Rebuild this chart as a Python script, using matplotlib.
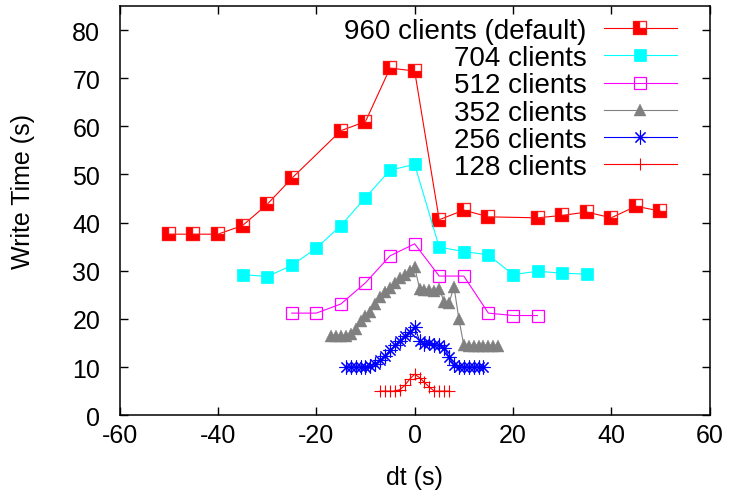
import matplotlib
matplotlib.use("Agg")
import matplotlib.pyplot as plt
from matplotlib.path import Path

plt.rcParams['font.family'] = ['Liberation Sans', 'DejaVu Sans']
plt.rcParams['axes.unicode_minus'] = False

# --- data ---
dt_960 = [-50, -45, -40, -35, -30, -25, -15, -10, -5, 0, 5, 10, 15, 25, 30, 35, 40, 45, 50]
wt_960 = [37.6, 37.6, 37.6, 39.4, 43.8, 49.2, 59.1, 61.0, 72.1, 71.5,
          40.6, 42.6, 41.2, 41.0, 41.5, 42.2, 41.0, 43.4, 42.4]

dt_704 = [-35, -30, -25, -20, -15, -10, -5, 0, 5, 10, 15, 20, 25, 30, 35]
wt_704 = [29.2, 28.8, 31.1, 34.7, 39.4, 45.2, 50.9, 52.1, 34.9, 34.0, 33.3, 29.2, 29.9, 29.5, 29.3]

dt_512 = [-25, -20, -15, -10, -5, 0, 5, 10, 15, 20, 25]
wt_512 = [21.2, 21.2, 23.1, 27.5, 33.1, 35.6, 28.9, 28.9, 21.2, 20.7, 20.7]

dt_352 = list(range(-17, 18))
wt_352 = [16.5, 16.5, 16.5, 16.5, 16.8, 18.0, 19.5, 20.5, 21.5, 23.0, 24.5, 25.5,
          26.5, 27.5, 28.5, 29.2, 30.0, 30.8,
          26.3, 26.0, 26.0, 25.8, 26.3, 23.5, 23.3, 26.7, 20.0,
          14.5, 14.3, 14.3, 14.3, 14.3, 14.3, 14.3, 14.3]

dt_256 = list(range(-14, 15))
wt_256 = [10.0, 10.0, 10.0, 10.0, 10.0, 10.2, 10.6, 11.5, 12.3, 13.5, 14.5, 15.5, 16.5, 17.3, 18.3,
          15.5, 14.8, 15.0, 14.5, 14.6, 14.0, 12.1, 10.4, 10.0, 10.0, 10.0, 10.0, 10.0, 10.0]

dt_128 = list(range(-7, 8))
wt_128 = [5.0, 5.0, 5.0, 5.0, 5.3, 6.2, 7.5, 8.5, 7.8, 6.8, 5.8, 5.0, 5.0, 5.0, 5.0]

labels = ["960 clients (default)", "704 clients", "512 clients",
          "352 clients", "256 clients", "128 clients"]

# square with a notch cut in the upper right corner (gnuplot style)
outer = [(-1, -1), (1, -1), (1, 1), (-1, 1), (-1, -1)]
inner = [(-0.02, -0.02), (-0.02, 0.85), (0.85, 0.85), (0.85, -0.02), (-0.02, -0.02)]
notch_sq = Path(outer + inner,
                [Path.MOVETO] + [Path.LINETO] * 3 + [Path.CLOSEPOLY] +
                [Path.MOVETO] + [Path.LINETO] * 3 + [Path.CLOSEPOLY])

fig = plt.figure(figsize=(7.3, 5.02), dpi=100)
ax = fig.add_axes([0.164, 0.171, 0.808, 0.815])

lw = 0.8
ax.plot(dt_960, wt_960, color='#ff0000', lw=lw, marker=notch_sq, ms=9.8,
        mfc='#ff0000', mec='#ff5050', mew=0.3, label=labels[0])
ax.plot(dt_704, wt_704, color='#00ffff', lw=lw, marker='s', ms=9.2,
        mfc='#00ffff', mec='#00ffff', mew=0.5, label=labels[1])
ax.plot(dt_512, wt_512, color='#ff00ff', lw=lw, marker='s', ms=9.2,
        mfc='none', mec='#ff00ff', mew=0.9, label=labels[2])
ax.plot(dt_352, wt_352, color='#808080', lw=lw, marker='^', ms=8.5,
        mfc='#808080', mec='#808080', mew=0.3, label=labels[3])
ax.plot(dt_256, wt_256, color='#0000ff', lw=lw, marker=(8, 2, 0), ms=10,
        mec='#0000ff', mew=0.8, label=labels[4])
ax.plot(dt_128, wt_128, color='#ff0000', lw=lw, marker='+', ms=8.5,
        mec='#ff0000', mew=0.8, label=labels[5])

ax.set_xlim(-60, 60)
ax.set_ylim(0, 85)
ax.set_xticks(range(-60, 61, 20))
ax.set_yticks(range(0, 81, 10))

ax.tick_params(direction='in', length=6, width=1, top=True, right=True,
               labelsize=18)
ax.tick_params(axis='y', pad=14)
ax.tick_params(axis='x', pad=6)
for s in ax.spines.values():
    s.set_linewidth(1.1)

ax.set_xlabel("dt (s)", fontsize=18, va='center')
ax.set_ylabel("Write Time (s)", fontsize=18, va='center')
ax.xaxis.set_label_coords(0.5, -0.152)
ax.yaxis.set_label_coords(-0.164, 0.548)

leg = ax.legend(loc='upper right', bbox_to_anchor=(0.944, 0.971),
                markerfirst=False, frameon=False, fontsize=20,
                handlelength=2.6, handletextpad=0.65, labelspacing=0.045,
                borderpad=0, borderaxespad=0)

fig.savefig("out.png", dpi=100)
